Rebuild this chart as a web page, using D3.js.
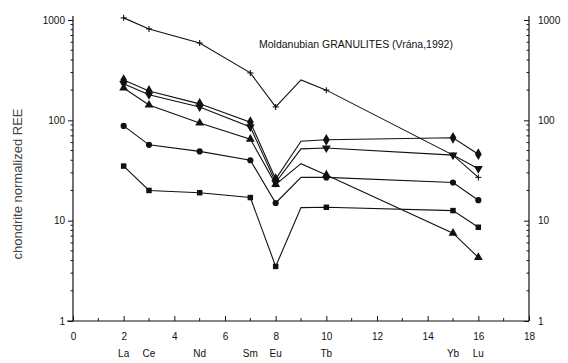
<!DOCTYPE html>
<html>
<head>
<meta charset="utf-8">
<script src="https://cdn.jsdelivr.net/npm/d3@7"></script>
<style>
  body { margin: 0; background: #fff; }
  svg { display: block; font-family: 'Liberation Sans', Arial, sans-serif; }
  .line { fill: none; stroke: #111; stroke-width: 1.1; }
  .axis-line { stroke: #111; stroke-width: 1.2; }
  .tick-label { font-size: 10px; fill: #111; }
</style>
</head>
<body>
<svg></svg>
<script>
let width = 568;
let height = 363;

// REE positions on the x axis (Gd is plotted but not marked or labelled)
let elements = ['La', 'Ce', 'Nd', 'Sm', 'Eu', 'Gd', 'Tb', 'Yb', 'Lu'];
let elementX = [2, 3, 5, 7, 8, 9, 10, 15, 16];
let xTicks = [0, 2, 4, 6, 8, 10, 12, 14, 16, 18];
let yTicks = [1, 10, 100, 1000];

// chondrite normalized values, one array per sample
let plusSample = [1050, 815, 590, 297, 136, 253, 200, 45, 27];
let diamondSample = [252, 196, 146, 96, 26, 62, 64, 67, 46];
let downTriSample = [232, 180, 136, 86, 24, 52, 53, 45, 33];
let triSample = [210, 142, 94, 65, 23, 37, 28.6, 7.5, 4.3];
let circleSample = [88, 57, 49, 40, 15, 27, 27, 24, 16];
let squareSample = [35, 20, 19, 17, 3.5, 13.5, 13.6, 12.6, 8.6];

let svg = d3.select('svg')
    .attr('width', width)
    .attr('height', height);

let x = d3.scaleLinear().domain([0, 18]).range([73, 529]);
let y = d3.scaleLog().domain([1, 1000]).range([321, 20]);

// axes
let left = svg.append('g')
    .attr('transform', `translate(${x(0)},0)`)
    .call(d3.axisLeft(y).tickValues(yTicks).tickSize(5).tickFormat(d3.format('d')));
let right = svg.append('g')
    .attr('transform', `translate(${x(18)},0)`)
    .call(d3.axisLeft(y).tickValues(yTicks).tickSize(5).tickFormat(''));
right.selectAll('.tick').append('text')
    .attr('x', 9)
    .attr('dy', '0.32em')
    .attr('fill', '#111')
    .attr('text-anchor', 'start')
    .text(d => d);

let bottom = svg.append('g')
    .attr('transform', `translate(0,${y(1)})`)
    .call(d3.axisBottom(x).tickValues(xTicks).tickSize(-5).tickPadding(12));

// minor ticks
let minorY = [];
[1, 10, 100].forEach(dec => {
    for (let k = 2; k <= 9; k++) minorY.push(dec * k);
});
[x(0), x(18)].forEach((ax, i) => {
    svg.append('g').selectAll('line')
        .data(minorY)
        .enter()
        .append('line')
        .attr('x1', ax)
        .attr('x2', i === 0 ? ax - 2.5 : ax - 2.5)
        .attr('y1', d => y(d))
        .attr('y2', d => y(d))
        .attr('stroke', '#111');
});
svg.append('g').selectAll('line')
    .data(d3.range(1, 18, 2))
    .enter()
    .append('line')
    .attr('x1', d => x(d))
    .attr('x2', d => x(d))
    .attr('y1', y(1))
    .attr('y2', y(1) - 3)
    .attr('stroke', '#111');

[left, right, bottom].forEach(g => {
    g.select('.domain').attr('class', 'domain axis-line');
    g.selectAll('.tick line').attr('stroke', '#111');
    g.selectAll('.tick text').attr('class', 'tick-label').style('font-size', '10px');
});
left.select('.domain').attr('d', `M0,${y(1)}V${y(1000) - 4}`);
right.select('.domain').attr('d', `M0,${y(1)}V${y(1000) - 4}`);
bottom.select('.domain').attr('d', `M${x(0) - 6},0H${x(18)}`);

// element labels
svg.append('g').selectAll('text')
    .data(elements.filter(e => e !== 'Gd'))
    .enter()
    .append('text')
    .attr('x', d => x(elementX[elements.indexOf(d)]))
    .attr('y', 357)
    .attr('text-anchor', 'middle')
    .style('font-size', '10px')
    .attr('fill', '#111')
    .text(d => d);

// y axis title
svg.append('text')
    .attr('transform', `translate(22,${184}) rotate(-90)`)
    .attr('text-anchor', 'middle')
    .style('font-size', '13px')
    .attr('fill', '#444')
    .text('chondrite normalized REE');

// title
svg.append('text')
    .attr('x', 259)
    .attr('y', 48)
    .style('font-size', '10.5px')
    .attr('fill', '#111')
    .text('Moldanubian GRANULITES (Vrána,1992)');

// series
let series = [
    { values: plusSample, symbol: 'plus' },
    { values: diamondSample, symbol: d3.symbolDiamond, size: 40 },
    { values: downTriSample, symbol: d3.symbolTriangle, size: 34, flip: true },
    { values: triSample, symbol: d3.symbolTriangle, size: 34 },
    { values: circleSample, symbol: d3.symbolCircle, size: 30 },
    { values: squareSample, symbol: d3.symbolSquare, size: 30 }
];

let line = d3.line()
    .x((d, i) => x(elementX[i]))
    .y(d => y(d));

series.forEach(s => {
    svg.append('path')
        .datum(s.values)
        .attr('class', 'line')
        .attr('d', line);

    let pts = s.values
        .map((v, i) => ({ v: v, xv: elementX[i], el: elements[i] }))
        .filter(p => p.el !== 'Gd');

    let g = svg.append('g');
    if (s.symbol === 'plus') {
        let m = g.selectAll('g')
            .data(pts)
            .enter()
            .append('g')
            .attr('transform', p => `translate(${x(p.xv)},${y(p.v)})`);
        m.append('line').attr('x1', -3).attr('x2', 3).attr('stroke', '#111').attr('stroke-width', 1.1);
        m.append('line').attr('y1', -3).attr('y2', 3).attr('stroke', '#111').attr('stroke-width', 1.1);
    } else {
        g.selectAll('path')
            .data(pts)
            .enter()
            .append('path')
            .attr('d', d3.symbol().type(s.symbol).size(s.size))
            .attr('transform', p => `translate(${x(p.xv)},${y(p.v)})` + (s.flip ? ' rotate(180)' : ''))
            .attr('fill', '#111');
    }
});
</script>
</body>
</html>
